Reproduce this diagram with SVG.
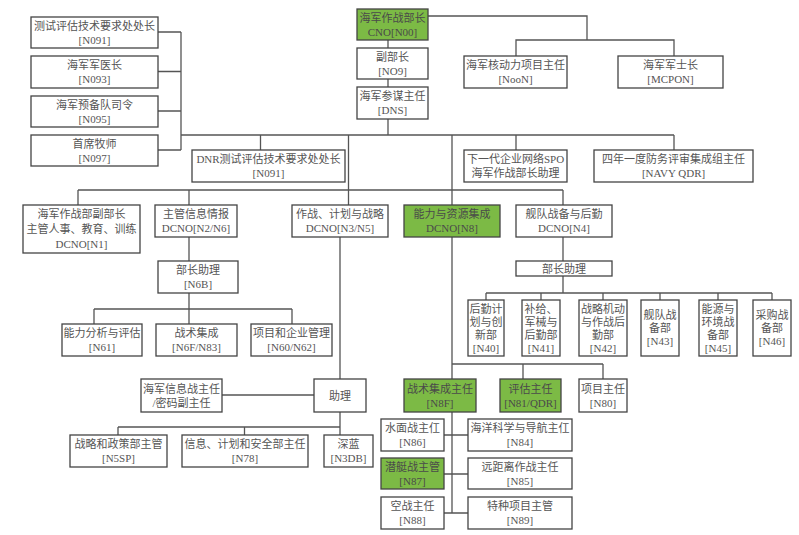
<svg xmlns="http://www.w3.org/2000/svg" width="799" height="535" viewBox="0 0 799 535">
<style>
.b{fill:#fff;stroke:#444;stroke-width:1.3}
.g{fill:#7cba45;stroke:#444;stroke-width:1.3}
.c{fill:none;stroke:#555;stroke-width:1.3}
text{font-family:"Liberation Serif","Noto Sans CJK SC",serif;font-size:11px;fill:#555;text-anchor:middle}
.gt text{fill:#4a4a4a}
</style>
<rect width="799" height="535" fill="#fff"/>
<g id="connectors" class="c">
<path d="M388,40V48M388,79V87M388,119V135"/>
<path d="M428,16H587V40M516,56V40H674V56"/>
<path d="M158,32H181M158,71.5H181M158,111H181M158,150H181M181,32V150"/>
<path d="M181,135H674M260.5,135V150M348.5,135V205M452,135V379M516,135V150M674,135V150"/>
<path d="M78,190H563M78,190V205M189,190V205M563,190V205"/>
<path d="M189,237V261M189,293V309M94,309H292M94,309V324M189,309V324M292,309V324"/>
<path d="M340,237V379M222,395H314M340,412V435M118,427H340M118,427V435M244.5,427V435"/>
<path d="M452,364H603M523,364V379M603,364V379"/>
<path d="M563,237V261M563,276V293M486,293H772M486,293V300M541,293V300M603,293V300M660,293V300M718,293V300M772,293V300"/>
<path d="M452,412V513M444,435H468M444,474H468M444,513H468"/>
</g>
<g id="N091a"><rect class="b" x="31" y="17" width="127" height="31"/><text x="94.5" y="29.5">测试评估技术要求处处长</text><text x="94.5" y="43.5">[N091]</text></g>
<g id="N093"><rect class="b" x="31" y="56" width="127" height="32"/><text x="94.5" y="69">海军军医长</text><text x="94.5" y="83">[N093]</text></g>
<g id="N095"><rect class="b" x="31" y="96" width="127" height="31"/><text x="94.5" y="108.5">海军预备队司令</text><text x="94.5" y="122.5">[N095]</text></g>
<g id="N097"><rect class="b" x="31" y="135" width="127" height="31"/><text x="94.5" y="147.5">首席牧师</text><text x="94.5" y="161.5">[N097]</text></g>
<g id="CNO" class="gt"><rect class="g" x="357" y="9" width="71" height="31"/><text x="392.5" y="21.5">海军作战部长</text><text x="392.5" y="35.5">CNO[N00]</text></g>
<g id="NO9"><rect class="b" x="357" y="48" width="71" height="31"/><text x="392.5" y="60.5">副部长</text><text x="392.5" y="74.5">[NO9]</text></g>
<g id="DNS"><rect class="b" x="357" y="87" width="71" height="32"/><text x="392.5" y="100">海军参谋主任</text><text x="392.5" y="114">[DNS]</text></g>
<g id="NooN"><rect class="b" x="464" y="56" width="103" height="32"/><text x="515.5" y="69">海军核动力项目主任</text><text x="515.5" y="83">[NooN]</text></g>
<g id="MCPON"><rect class="b" x="618" y="56" width="105" height="32"/><text x="670.5" y="69">海军军士长</text><text x="670.5" y="83">[MCPON]</text></g>
<g id="DNR"><rect class="b" x="192" y="150" width="153" height="32"/><text x="268.5" y="163">DNR测试评估技术要求处处长</text><text x="268.5" y="177">[N091]</text></g>
<g id="SPO"><rect class="b" x="464" y="150" width="103" height="32"/><text x="515.5" y="163">下一代企业网络SPO</text><text x="515.5" y="177">海军作战部长助理</text></g>
<g id="QDR"><rect class="b" x="594" y="150" width="159" height="32"/><text x="673.5" y="163">四年一度防务评审集成组主任</text><text x="673.5" y="177">[NAVY QDR]</text></g>
<g id="N1"><rect class="b" x="23" y="205" width="117" height="48"/><text x="81.5" y="218">海军作战部副部长</text><text x="81.5" y="233">主管人事、教育、训练</text><text x="81.5" y="248">DCNO[N1]</text></g>
<g id="N2N6"><rect class="b" x="155" y="205" width="82" height="32"/><text x="196" y="218">主管信息情报</text><text x="196" y="232">DCNO[N2/N6]</text></g>
<g id="N3N5"><rect class="b" x="292" y="205" width="96" height="32"/><text x="340" y="218">作战、计划与战略</text><text x="340" y="232">DCNO[N3/N5]</text></g>
<g id="N8" class="gt"><rect class="g" x="404" y="205" width="96" height="32"/><text x="452" y="218">能力与资源集成</text><text x="452" y="232">DCNO[N8]</text></g>
<g id="N4"><rect class="b" x="516" y="205" width="96" height="32"/><text x="564" y="218">舰队战备与后勤</text><text x="564" y="232">DCNO[N4]</text></g>
<g id="N6B"><rect class="b" x="158" y="261" width="80" height="32"/><text x="198" y="274">部长助理</text><text x="198" y="288">[N6B]</text></g>
<g id="N4A"><rect class="b" x="516" y="261" width="96" height="15"/><text x="564" y="272.5">部长助理</text></g>
<g id="N61"><rect class="b" x="62" y="324" width="80" height="32"/><text x="102" y="337">能力分析与评估</text><text x="102" y="351">[N61]</text></g>
<g id="N6F"><rect class="b" x="156" y="324" width="81" height="32"/><text x="196.5" y="337">战术集成</text><text x="196.5" y="351">[N6F/N83]</text></g>
<g id="N60"><rect class="b" x="251" y="324" width="81" height="32"/><text x="291.5" y="337">项目和企业管理</text><text x="291.5" y="351">[N60/N62]</text></g>
<g id="N40"><rect class="b" x="468" y="300" width="36" height="56"/><text x="486" y="312.5">后勤计</text><text x="486" y="325.5">划与创</text><text x="486" y="338.5">新部</text><text x="486" y="351.5">[N40]</text></g>
<g id="N41"><rect class="b" x="522" y="300" width="38" height="56"/><text x="541" y="312.5">补给、</text><text x="541" y="325.5">军械与</text><text x="541" y="338.5">后勤部</text><text x="541" y="351.5">[N41]</text></g>
<g id="N42"><rect class="b" x="579" y="300" width="48" height="56"/><text x="603" y="312.5">战略机动</text><text x="603" y="325.5">与作战后</text><text x="603" y="338.5">勤部</text><text x="603" y="351.5">[N42]</text></g>
<g id="N43"><rect class="b" x="641" y="300" width="38" height="56"/><text x="660" y="319">舰队战</text><text x="660" y="332">备部</text><text x="660" y="345">[N43]</text></g>
<g id="N45"><rect class="b" x="699" y="300" width="38" height="56"/><text x="718" y="312.5">能源与</text><text x="718" y="325.5">环境战</text><text x="718" y="338.5">备部</text><text x="718" y="351.5">[N45]</text></g>
<g id="N46"><rect class="b" x="753" y="300" width="38" height="56"/><text x="772" y="319">采购战</text><text x="772" y="332">备部</text><text x="772" y="345">[N46]</text></g>
<g id="NIW"><rect class="b" x="141" y="379" width="81" height="33"/><text x="181.5" y="392.5">海军信息战主任</text><text x="181.5" y="406.5">/密码副主任</text></g>
<g id="ZL"><rect class="b" x="314" y="379" width="52" height="33"/><text x="340" y="399.5">助理</text></g>
<g id="N5SP"><rect class="b" x="70" y="435" width="97" height="32"/><text x="118.5" y="448">战略和政策部主管</text><text x="118.5" y="462">[N5SP]</text></g>
<g id="N78"><rect class="b" x="182" y="435" width="126" height="32"/><text x="245" y="448">信息、计划和安全部主任</text><text x="245" y="462">[N78]</text></g>
<g id="N3DB"><rect class="b" x="324" y="435" width="49" height="32"/><text x="348.5" y="448">深蓝</text><text x="348.5" y="462">[N3DB]</text></g>
<g id="N8F" class="gt"><rect class="g" x="404" y="379" width="72" height="33"/><text x="440" y="392.5">战术集成主任</text><text x="440" y="406.5">[N8F]</text></g>
<g id="N81" class="gt"><rect class="g" x="500" y="379" width="61" height="33"/><text x="530.5" y="392.5">评估主任</text><text x="530.5" y="406.5">[N81/QDR]</text></g>
<g id="N80"><rect class="b" x="579" y="379" width="48" height="33"/><text x="603" y="392.5">项目主任</text><text x="603" y="406.5">[N80]</text></g>
<g id="N86"><rect class="b" x="381" y="419" width="63" height="32"/><text x="412.5" y="432">水面战主仜</text><text x="412.5" y="446">[N86]</text></g>
<g id="N84"><rect class="b" x="468" y="419" width="104" height="32"/><text x="520" y="432">海洋科学与导航主仜</text><text x="520" y="446">[N84]</text></g>
<g id="N87" class="gt"><rect class="g" x="381" y="458" width="63" height="31"/><text x="412.5" y="470.5">潜艇战主管</text><text x="412.5" y="484.5">[N87]</text></g>
<g id="N85"><rect class="b" x="468" y="458" width="104" height="31"/><text x="520" y="470.5">远距离作战主任</text><text x="520" y="484.5">[N85]</text></g>
<g id="N88"><rect class="b" x="381" y="497" width="63" height="32"/><text x="412.5" y="510">空战主任</text><text x="412.5" y="524">[N88]</text></g>
<g id="N89"><rect class="b" x="468" y="497" width="104" height="32"/><text x="520" y="510">特种项目主管</text><text x="520" y="524">[N89]</text></g>
</svg>
